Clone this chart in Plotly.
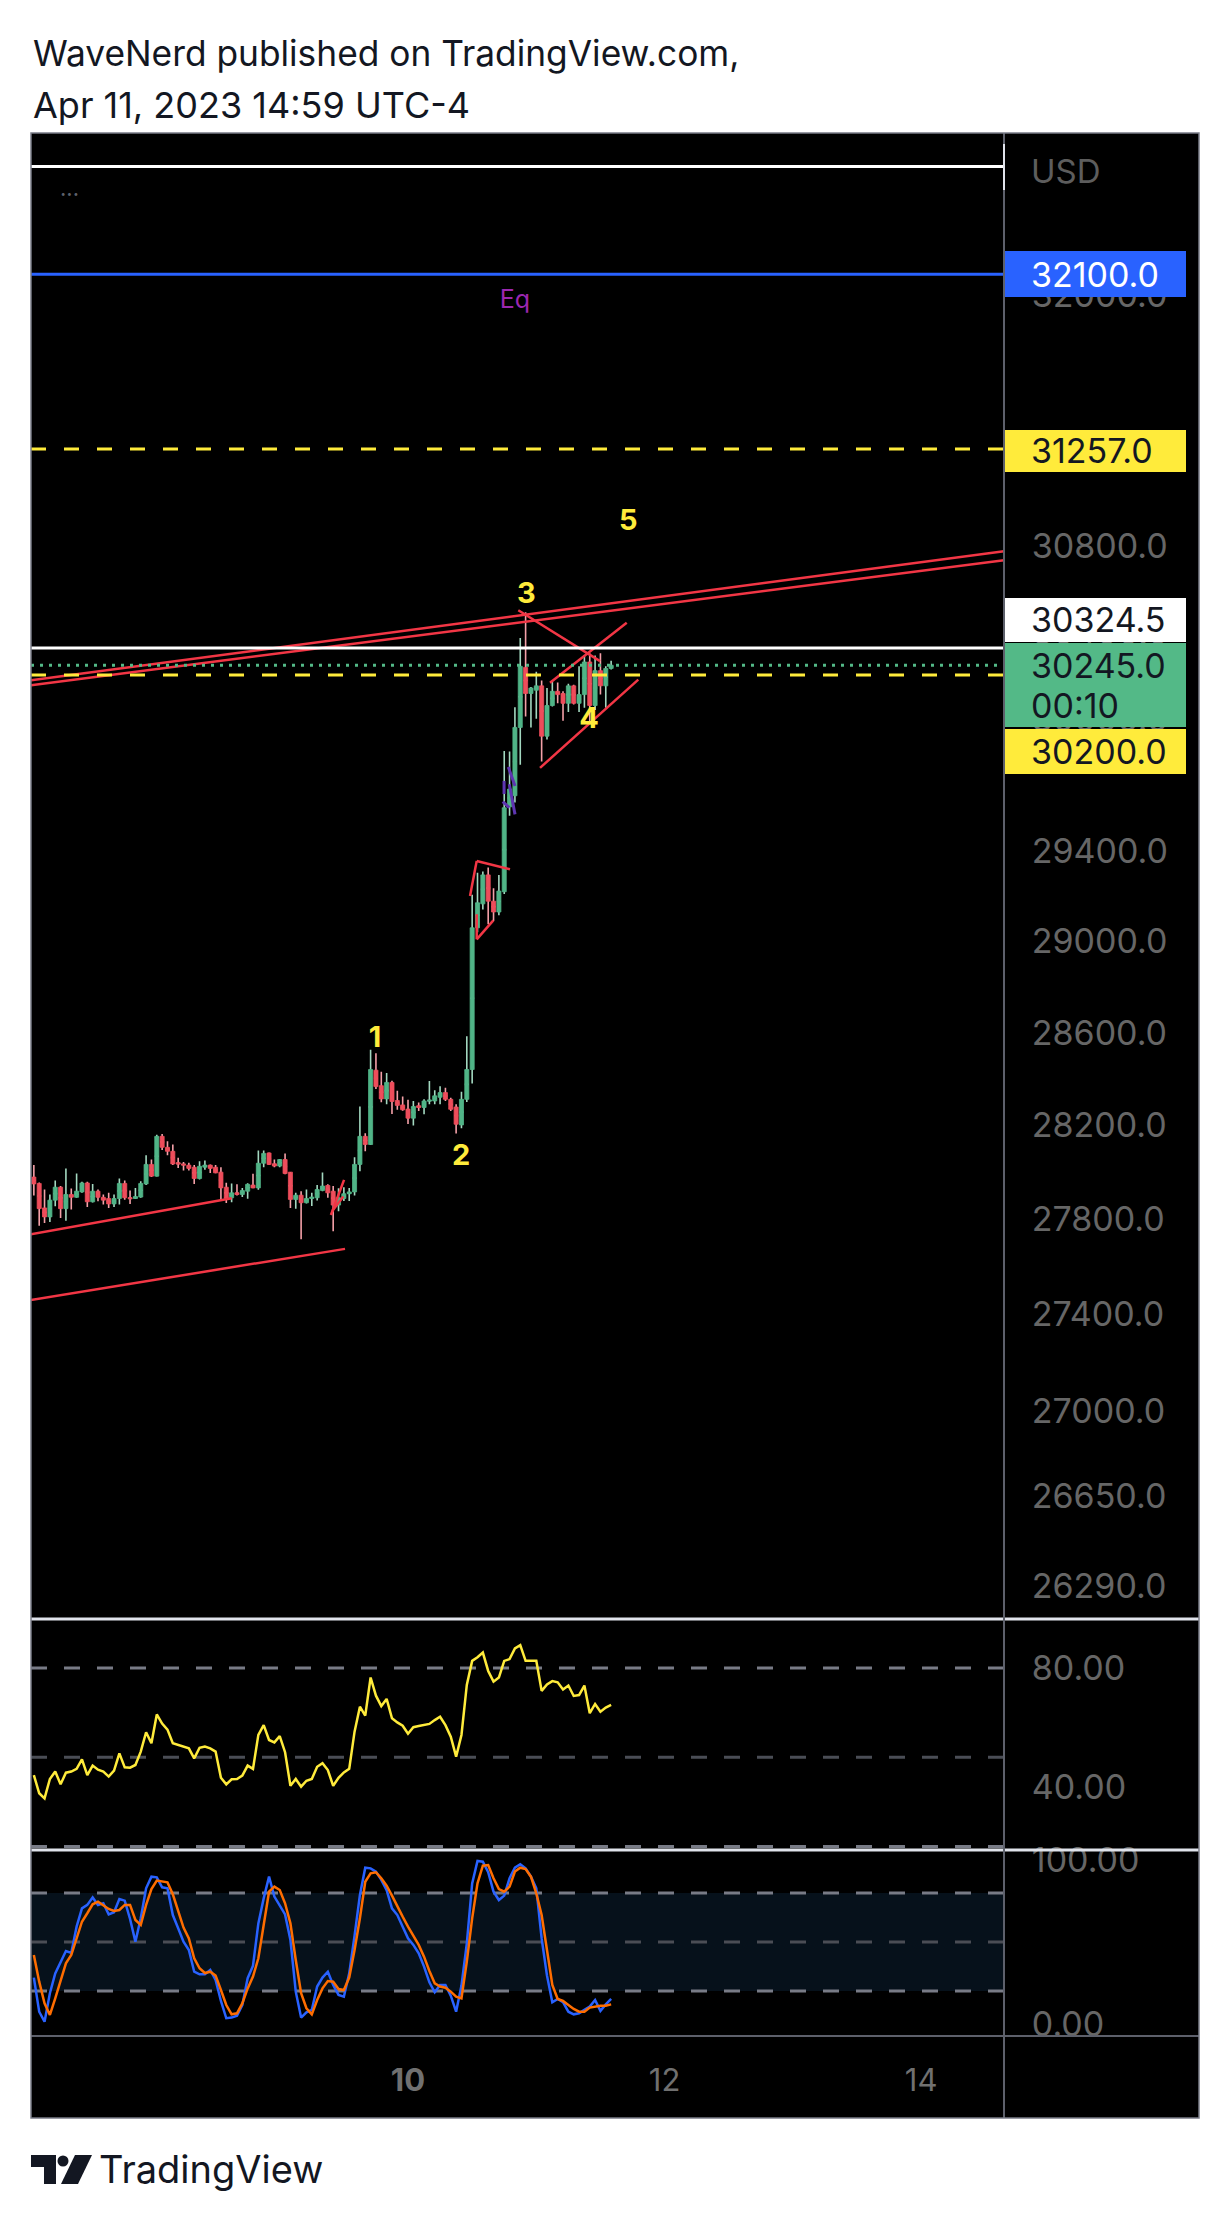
import math
import pandas as pd
import plotly.graph_objects as go

W, H = 1230, 2224
FONT = "Inter, Roboto, sans-serif"

# ---------------- data (BTC/USD, 1h candles) ----------------
candle_start = "2023-04-07 02:00"
opens = [27978, 27951, 27847, 27809, 27880, 27935, 27844, 27904, 27892, 27915,
         27953, 27873, 27918, 27892, 27887, 27864, 27887, 27951, 27890, 27887,
         27893, 27949, 28032, 27982, 28152, 28105, 28088, 28039, 28034, 28029,
         28020, 27972, 28020, 28029, 28020, 27999, 27935, 27890, 27911, 27904,
         27918, 27944, 27932, 28037, 28081, 28035, 28025, 28053, 27999, 27883,
         27901, 27869, 27887, 27890, 27921, 27942, 27918, 27859, 27887, 27907,
         27915, 28032, 28152, 28117, 28437, 28370, 28313, 28384, 28306, 28287,
         28269, 28230, 28283, 28276, 28304, 28304, 28320, 28340, 28311, 28278,
         28201, 28311, 28440, 29060, 29166, 29295, 29178, 29130, 29220, 29600,
         29650, 29960, 30235, 30115, 30130, 30150, 29920, 30060, 30125, 30115,
         30070, 30150, 30070, 30110, 30260, 30060, 30220, 30150, 30230]
highs = [28030, 27955, 27925, 27904, 27963, 27940, 28015, 27929, 27993, 27958,
         27958, 27949, 27925, 27904, 27911, 27904, 27972, 27963, 27921, 27932,
         27960, 28071, 28053, 28159, 28162, 28131, 28117, 28060, 28042, 28039,
         28029, 28046, 28049, 28032, 28029, 28020, 27954, 27951, 27947, 27932,
         27952, 27992, 28091, 28091, 28083, 28053, 28055, 28079, 28000, 27911,
         27918, 27925, 27911, 27944, 27998, 27947, 27940, 27930, 27935, 27932,
         28063, 28280, 28165, 28525, 28510, 28430, 28425, 28391, 28348, 28323,
         28309, 28304, 28297, 28311, 28390, 28350, 28368, 28361, 28318, 28290,
         28344, 28584, 29206, 29305, 29310, 29328, 29235, 29295, 29853, 29850,
         30052, 30370, 30490, 30145, 30215, 30175, 30140, 30175, 30165, 30125,
         30160, 30155, 30240, 30290, 30300, 30290, 30300, 30240, 30265]
lows = [27900, 27772, 27783, 27787, 27854, 27804, 27793, 27840, 27890, 27911,
        27851, 27870, 27875, 27861, 27847, 27851, 27861, 27882, 27864, 27885,
        27890, 27944, 27978, 27980, 28094, 28071, 28030, 28017, 28006, 28006,
        27949, 27968, 28009, 27995, 27994, 27878, 27868, 27871, 27900, 27893,
        27886, 27930, 27924, 28020, 28029, 28020, 28020, 27990, 27847, 27843,
        27715, 27866, 27855, 27878, 27918, 27890, 27748, 27833, 27876, 27876,
        27900, 28003, 28088, 28115, 28356, 28299, 28290, 28248, 28266, 28262,
        28205, 28199, 28261, 28247, 28290, 28290, 28290, 28304, 28261, 28164,
        28187, 28300, 28379, 29040, 29141, 29076, 29090, 29116, 29210, 29560,
        29620, 29790, 30010, 29960, 30000, 29805, 29905, 30055, 30070, 29990,
        30030, 30065, 30030, 30050, 29980, 30040, 30110, 30050, 30225]
closes = [27949, 27844, 27809, 27880, 27935, 27844, 27904, 27892, 27918, 27953,
          27873, 27918, 27892, 27880, 27864, 27887, 27951, 27890, 27886, 27895,
          27951, 28032, 27982, 28152, 28105, 28088, 28034, 28034, 28029, 28015,
          27972, 28024, 28029, 28015, 27996, 27932, 27887, 27911, 27904, 27921,
          27947, 27932, 28037, 28079, 28032, 28025, 28053, 27993, 27883, 27901,
          27869, 27887, 27893, 27925, 27940, 27911, 27859, 27890, 27907, 27915,
          28032, 28152, 28117, 28440, 28366, 28313, 28384, 28302, 28285, 28266,
          28230, 28280, 28276, 28304, 28307, 28326, 28340, 28311, 28268, 28204,
          28311, 28440, 29060, 29171, 29295, 29178, 29130, 29223, 29596, 29680,
          29960, 30240, 30115, 30140, 30150, 29920, 30060, 30125, 30110, 30070,
          30150, 30070, 30110, 30260, 30060, 30220, 30150, 30230, 30245]

rsi_values = [44.0, 37.9, 36.2, 42.7, 45.2, 40.9, 44.8, 45.2, 46.1, 49.3,
              44.0, 47.2, 45.8, 45.2, 43.5, 45.5, 51.3, 46.6, 46.5, 47.4,
              51.9, 58.4, 54.7, 64.4, 61.3, 59.3, 54.7, 54.1, 53.7, 53.0,
              49.6, 53.2, 53.6, 53.0, 51.9, 43.1, 40.9, 42.6, 42.7, 43.8,
              47.2, 46.1, 57.5, 60.8, 55.8, 55.0, 57.1, 51.7, 40.4, 42.7,
              40.1, 42.1, 42.7, 46.8, 48.0, 45.7, 40.4, 43.1, 44.9, 46.1,
              58.6, 67.0, 64.0, 76.8, 70.7, 67.2, 69.6, 63.1, 61.7, 60.6,
              57.9, 60.1, 60.5, 60.8, 61.2, 62.5, 63.6, 60.8, 56.9, 50.2,
              57.5, 74.3, 82.4, 83.6, 85.2, 79.0, 75.4, 76.8, 82.4, 83.0,
              86.6, 87.7, 82.4, 82.4, 82.4, 72.3, 74.5, 75.6, 75.2, 72.8,
              74.1, 70.6, 70.9, 74.1, 64.8, 67.9, 65.3, 66.7, 67.6]
stoch_k = [28.2, 7.3, 1.2, 18.6, 30.8, 37.6, 44.5, 43.3, 59.4, 70.6,
           72.7, 77.3, 72.7, 73.7, 66.9, 68.2, 76.3, 75.3, 64.1, 50.2,
           64.5, 82.9, 90.0, 89.6, 83.5, 82.9, 66.5, 58.4, 50.2, 45.1,
           31.8, 30.2, 30.2, 32.9, 26.7, 13.9, 3.3, 3.7, 4.9, 11.4,
           27.8, 35.5, 61.4, 76.7, 90.0, 77.8, 72.7, 66.9, 51.2, 19.6,
           3.7, 6.9, 8.4, 22.7, 28.2, 31.8, 23.7, 17.6, 16.5, 30.8,
           53.9, 78.8, 95.5, 95.1, 93.1, 88.0, 81.8, 70.6, 66.5, 59.4,
           52.2, 48.2, 43.1, 34.9, 25.3, 19.2, 23.7, 23.7, 17.1, 7.3,
           23.3, 49.2, 85.9, 99.6, 99.2, 92.7, 80.8, 75.7, 78.4, 89.0,
           95.5, 97.6, 95.1, 90.0, 82.9, 52.2, 29.4, 13.1, 15.1, 13.1,
           7.3, 5.7, 6.3, 8.4, 10.4, 14.5, 7.8, 11.8, 15.1]
stoch_d = [42.0, 25.7, 12.4, 5.3, 15.5, 25.7, 36.9, 42.0, 51.8, 62.4,
           67.6, 73.1, 74.7, 72.7, 70.2, 69.0, 69.6, 72.7, 72.7, 63.5,
           60.4, 72.7, 82.4, 87.6, 86.9, 86.5, 79.2, 69.0, 58.8, 52.2,
           40.0, 33.9, 31.0, 31.8, 29.4, 20.6, 11.4, 5.7, 6.3, 12.4,
           21.6, 28.8, 40.0, 60.4, 80.8, 83.9, 81.8, 73.7, 61.4, 39.0,
           18.6, 9.4, 5.7, 14.5, 21.6, 26.1, 25.7, 21.2, 20.6, 28.2,
           45.1, 64.5, 86.9, 92.0, 92.7, 89.0, 84.5, 78.4, 71.6, 65.5,
           59.4, 53.9, 48.2, 41.0, 32.2, 24.7, 22.7, 22.0, 19.6, 16.5,
           15.5, 38.0, 64.5, 85.9, 96.7, 97.1, 89.0, 82.4, 80.8, 83.9,
           93.1, 95.5, 94.7, 90.0, 79.8, 66.5, 46.1, 23.7, 15.1, 13.9,
           11.4, 9.0, 7.3, 7.3, 9.8, 10.4, 11.0, 11.0, 11.8]

price_ticks = [32000, 30800, 30400, 30000, 29400, 29000, 28600, 28200,
               27800, 27400, 27000, 26650, 26290]
rsi_ticks = [40, 80]
stoch_ticks = [0, 100]
day_ticks = ["2023-04-10", "2023-04-12", "2023-04-14"]
day_labels = ["<b>10</b>", "12", "14"]
rsi_bands = [80, 50, 20]
stoch_bands = [80, 50, 20]

level_white_top = 32630
level_blue = 32100
level_yellow_hi = 31257
level_white = 30324.5
last_price = 30245
level_yellow_lo = 30200
countdown = "00:10"

wave_times = ["2023-04-09 17:50", "2023-04-10 09:55", "2023-04-10 22:09",
              "2023-04-11 09:52", "2023-04-11 17:12"]
wave_prices = [28568, 28059, 30566, 29989, 30906]
wave_names = ["1", "2", "3", "4", "5"]
eq_time, eq_price = "2023-04-10 20:00", 31967

red_segments = [
    ("2023-04-07 01:28", 30176, "2023-04-14 15:30", 30774),
    ("2023-04-07 01:28", 30153, "2023-04-14 15:30", 30732),
    ("2023-04-07 01:18", 27735, "2023-04-08 15:01", 27888),
    ("2023-04-07 01:18", 27459, "2023-04-09 12:13", 27674),
    ("2023-04-09 09:35", 27817, "2023-04-09 12:02", 27966),
    ("2023-04-09 09:50", 27834, "2023-04-09 11:54", 27895),
    ("2023-04-10 11:36", 29201, "2023-04-10 12:51", 29357),
    ("2023-04-10 12:51", 29357, "2023-04-10 19:05", 29320),
    ("2023-04-10 12:51", 29120, "2023-04-10 12:51", 29009),
    ("2023-04-10 12:51", 29009, "2023-04-10 15:58", 29093),
    ("2023-04-10 20:38", 30499, "2023-04-11 11:55", 30264),
    ("2023-04-11 02:34", 30164, "2023-04-11 16:55", 30441),
    ("2023-04-11 00:42", 29776, "2023-04-11 19:05", 30179),
]
purple_segments = [
    ("2023-04-10 17:58", 29717, "2023-04-10 17:58", 29658),
    ("2023-04-10 17:43", 29623, "2023-04-10 18:57", 29596),
    ("2023-04-10 18:46", 29780, "2023-04-10 20:01", 29694),
    ("2023-04-10 18:57", 29702, "2023-04-10 20:01", 29566),
]

# ---------------- styling ----------------
UP, DN = "#50b487", "#ee4d5b"
UP_WICK, DN_WICK = "#a3d8c0", "#f4a0a8"
YELLOW = "#ffeb3b"
BLUE = "#2962ff"
GREEN_LBL = "#53b987"
RED_DRAW = "#f23645"
PURPLE_DRAW = "#5e35b1"
TICK_GRAY = "#666666"
X_RANGE = ["2023-04-07 01:28", "2023-04-14 15:30"]
Y_LOG_RANGE = [math.log10(26158), math.log10(32797)]
LABEL_X = 1029


def PX(x):
    return x / W


def PY(y):
    return 1 - y / H


times = pd.date_range(candle_start, periods=len(closes), freq="h")
n = len(closes)

fig = go.Figure()

# wicks (pale), one trace per direction
for is_up, col in [(True, UP_WICK), (False, DN_WICK)]:
    idx = [i for i in range(n) if (closes[i] > opens[i]) == is_up]
    mid = [(opens[i] + closes[i]) / 2 for i in idx]
    fig.add_trace(go.Candlestick(
        x=[times[i] for i in idx], open=mid, close=mid,
        high=[highs[i] for i in idx], low=[lows[i] for i in idx],
        increasing=dict(line=dict(color=col, width=1.6), fillcolor=col),
        decreasing=dict(line=dict(color=col, width=1.6), fillcolor=col),
        whiskerwidth=0, hoverinfo="skip", xaxis="x", yaxis="y"))

# bodies
fig.add_trace(go.Candlestick(
    x=times, open=opens, close=closes,
    high=[max(o, c) for o, c in zip(opens, closes)],
    low=[min(o, c) for o, c in zip(opens, closes)],
    increasing=dict(line=dict(color=UP, width=0.8), fillcolor=UP),
    decreasing=dict(line=dict(color=DN, width=0.8), fillcolor=DN),
    whiskerwidth=0, hoverinfo="skip", xaxis="x", yaxis="y"))


def seg_trace(segs, color, width):
    xs, ys = [], []
    for t0, p0, t1, p1 in segs:
        xs += [t0, t1, None]
        ys += [p0, p1, None]
    return go.Scatter(x=xs, y=ys, mode="lines", line=dict(color=color, width=width),
                      hoverinfo="skip", xaxis="x", yaxis="y")


fig.add_trace(seg_trace(red_segments, RED_DRAW, 2.5))
fig.add_trace(seg_trace(purple_segments, PURPLE_DRAW, 3))

fig.add_trace(go.Scatter(x=wave_times, y=wave_prices, mode="text",
                         text=["<b>%s</b>" % s for s in wave_names],
                         textfont=dict(size=29, color=YELLOW, family=FONT),
                         textposition="middle center", hoverinfo="skip",
                         xaxis="x", yaxis="y"))
fig.add_trace(go.Scatter(x=[eq_time], y=[eq_price], mode="text", text=["Eq"],
                         textfont=dict(size=25, color="#9c27b0", family=FONT),
                         textposition="middle center", hoverinfo="skip",
                         xaxis="x", yaxis="y"))

# RSI and Stoch RSI
fig.add_trace(go.Scatter(x=times, y=rsi_values, mode="lines",
                         line=dict(color=YELLOW, width=2.5), hoverinfo="skip",
                         xaxis="x", yaxis="y2"))
fig.add_trace(go.Scatter(x=times, y=stoch_k, mode="lines",
                         line=dict(color=BLUE, width=2.5), hoverinfo="skip",
                         xaxis="x", yaxis="y3"))
fig.add_trace(go.Scatter(x=times, y=stoch_d, mode="lines",
                         line=dict(color="#ff6d00", width=2.5), hoverinfo="skip",
                         xaxis="x", yaxis="y3"))

# ---------------- shapes ----------------
shapes = []
shapes.append(dict(type="rect", xref="paper", yref="paper", x0=PX(31), x1=PX(1199),
                   y0=PY(2118), y1=PY(133), fillcolor="black", line=dict(width=0),
                   layer="below"))
shapes.append(dict(type="rect", xref="x", yref="y3", x0=X_RANGE[0], x1=X_RANGE[1],
                   y0=stoch_bands[2], y1=stoch_bands[0], fillcolor="#06111b",
                   line=dict(width=0), layer="below"))
for yref, bands in [("y2", rsi_bands), ("y3", stoch_bands)]:
    for v in bands:
        col = "#4a4d55" if v == 50 else "#787b86"
        shapes.append(dict(type="line", xref="x", yref=yref, x0=X_RANGE[0], x1=X_RANGE[1],
                           y0=v, y1=v, line=dict(color=col, width=3, dash="16px,17px"),
                           layer="below"))


def level(price, color, dash="solid", width=3):
    return dict(type="line", xref="x", yref="y", x0=X_RANGE[0], x1=X_RANGE[1],
                y0=price, y1=price, line=dict(color=color, width=width, dash=dash),
                layer="above")


shapes += [
    level(level_white_top, "white"),
    level(level_blue, BLUE),
    level(level_yellow_hi, YELLOW, "15px,18px"),
    level(level_white, "white"),
    level(last_price, GREEN_LBL, "3px,6px"),
    level(level_yellow_lo, YELLOW, "15px,18px"),
]


def pline(x0, y0, x1, y1, color, width):
    return dict(type="line", xref="paper", yref="paper", x0=PX(x0), x1=PX(x1),
                y0=PY(y0), y1=PY(y1), line=dict(color=color, width=width), layer="above")


shapes += [
    pline(31, 1619, 1199, 1619, "#e0e3eb", 3),
    pline(31, 1850, 1199, 1850, "#e0e3eb", 3),
    pline(31, 2036, 1199, 2036, "#5d606b", 2),
    pline(1004, 133, 1004, 2118, "#5d606b", 2),
    pline(1004, 144, 1004, 190, "#e0e3eb", 2),
    dict(type="rect", xref="paper", yref="paper", x0=PX(31), x1=PX(1199),
         y0=PY(2118), y1=PY(133), line=dict(color="#787b86", width=1.5),
         fillcolor="rgba(0,0,0,0)", layer="above"),
]


def ppath(pts):
    return "M " + " L ".join("%.5f,%.5f" % (PX(x), PY(y)) for x, y in pts) + " Z"


LOGO = "#131722"
shapes.append(dict(type="path", xref="paper", yref="paper",
                   path=ppath([(31, 2155), (56, 2155), (56, 2184), (44, 2184), (44, 2167), (31, 2167)]),
                   fillcolor=LOGO, line=dict(width=0)))
shapes.append(dict(type="circle", xref="paper", yref="paper", x0=PX(57.5), x1=PX(68.5),
                   y0=PY(2166.5), y1=PY(2155.5), fillcolor=LOGO, line=dict(width=0)))
shapes.append(dict(type="path", xref="paper", yref="paper",
                   path=ppath([(75, 2155), (92, 2155), (78, 2184), (61, 2184)]),
                   fillcolor=LOGO, line=dict(width=0)))

# ---------------- annotations ----------------
ann = []
ann.append(dict(text="WaveNerd published on TradingView.com,", xref="paper", yref="paper",
                x=PX(31), y=PY(53), xanchor="left", yanchor="middle", showarrow=False,
                font=dict(size=35.3, color="#131722", family=FONT)))
ann.append(dict(text="Apr 11, 2023 14:59 UTC-4", xref="paper", yref="paper",
                x=PX(31), y=PY(105), xanchor="left", yanchor="middle", showarrow=False,
                font=dict(size=36, color="#131722", family=FONT)))
ann.append(dict(text="TradingView", xref="paper", yref="paper", x=PX(97), y=PY(2169),
                xanchor="left", yanchor="middle", showarrow=False,
                font=dict(size=38, color="#131722", family=FONT)))
ann.append(dict(text="···", xref="paper", yref="paper", x=PX(58), y=PY(194),
                xanchor="left", yanchor="middle", showarrow=False,
                font=dict(size=22, color="#5d606b", family=FONT)))
ann.append(dict(text="USD", xref="paper", yref="paper", x=PX(LABEL_X), y=PY(171),
                xanchor="left", yanchor="middle", showarrow=False,
                font=dict(size=33, color="#5d5d5d", family=FONT)))

# price-axis label boxes: (price, centre shift px, height px, colour)
boxes = [
    (level_blue, 0, 46, BLUE),
    (level_yellow_hi, -2, 42, YELLOW),
    (level_white, 28, 44, "white"),
    (last_price, -20, 84, GREEN_LBL),
    (level_yellow_lo, -77, 45, YELLOW),
]
for price, shift, hgt, col in boxes:
    ann.append(dict(text=" ", xref="paper", x=PX(1005), xanchor="left",
                    yref="y", y=math.log10(price), yanchor="middle", yshift=shift,
                    width=181, height=hgt, bgcolor=col, borderpad=0, borderwidth=0,
                    showarrow=False, font=dict(size=10, color=col)))

box_texts = [
    (level_blue, "%.1f" % level_blue, 0, "white"),
    (level_yellow_hi, "%.1f" % level_yellow_hi, -2, "#131722"),
    (level_white, "%.1f" % level_white, 28, "#131722"),
    (last_price, "%.1f" % last_price, 0, "#131722"),
    (last_price, countdown, -40, "#131722"),
    (level_yellow_lo, "%.1f" % level_yellow_lo, -77, "#131722"),
]
for price, txt, shift, col in box_texts:
    ann.append(dict(text=txt, xref="paper", x=PX(LABEL_X), xanchor="left",
                    yref="y", y=math.log10(price), yanchor="middle", yshift=shift,
                    showarrow=False, font=dict(size=34, color=col, family=FONT)))

# ---------------- layout ----------------
yax = dict(side="right", anchor="x", showgrid=False, zeroline=False, showline=False,
           ticks="outside", ticklen=20, tickcolor="black", tickwidth=1,
           tickfont=dict(size=34, color=TICK_GRAY, family=FONT), automargin=False,
           fixedrange=True)

fig.update_layout(
    template="none",
    width=W, height=H, autosize=False,
    margin=dict(l=0, r=0, t=0, b=0),
    paper_bgcolor="white", plot_bgcolor="black",
    showlegend=False, hovermode=False,
    boxgap=0.2, boxgroupgap=0.05,
    font=dict(family=FONT),
    xaxis=dict(domain=[PX(31), PX(1004)], type="date", range=X_RANGE, anchor="y3",
               showgrid=False, zeroline=False, showline=False,
               ticks="outside", ticklen=17, tickcolor="black",
               tickvals=day_ticks, ticktext=day_labels, tickangle=0,
               tickfont=dict(size=31, color="#707070", family=FONT),
               rangeslider=dict(visible=False), automargin=False, fixedrange=True),
    yaxis=dict(domain=[PY(1619), PY(133)], type="log", range=Y_LOG_RANGE,
               tickvals=price_ticks, tickformat=".1f", **yax),
    yaxis2=dict(domain=[PY(1850), PY(1619)], range=[18.82, 96.47],
                tickvals=rsi_ticks, tickformat=".2f", **yax),
    yaxis3=dict(domain=[PY(2036), PY(1850)], range=[-7.57, 106.33],
                tickvals=stoch_ticks, tickformat=".2f", **yax),
    shapes=shapes,
    annotations=ann,
)

fig.write_html("out.html", config={"displayModeBar": False},
               post_script="document.body.style.margin='0px';")
